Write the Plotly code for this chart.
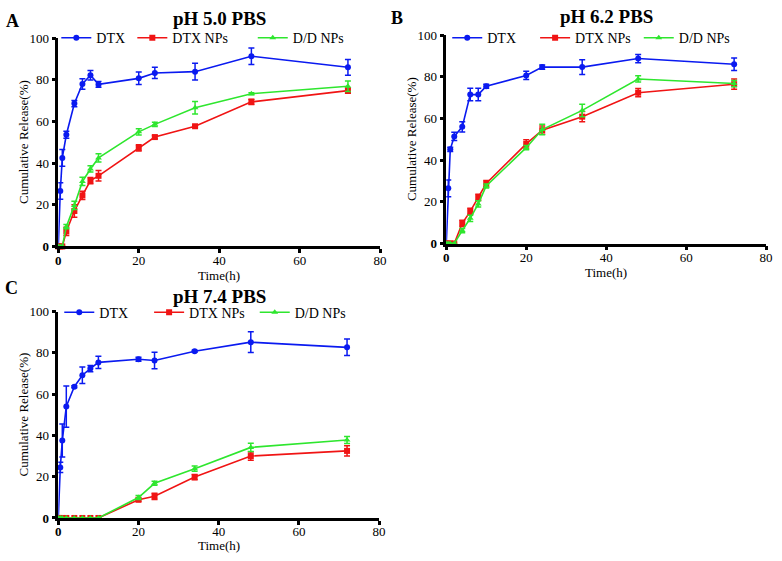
import plotly.graph_objects as go

W, H = 782, 561
FONT = "Liberation Serif, Times New Roman, Times, DejaVu Serif, serif"

time_h = [0, 0.5, 1, 2, 4, 6, 8, 10, 20, 24, 34, 48, 72]
series_names = ["DTX", "DTX NPs", "D/D NPs"]
panel_titles = ["pH 5.0 PBS", "pH 6.2 PBS", "pH 7.4 PBS"]
panel_letters = ["A", "B", "C"]
x_title = "Time(h)"
y_title = "Cumulative Release(%)"
x_ticks = [0, 20, 40, 60, 80]
y_ticks = [0, 20, 40, 60, 80, 100]

# Panel A (pH 5.0)
a_dtx = [0, 26.6, 42.5, 53.6, 68.6, 78.0, 82.2, 77.8, 80.7, 83.3, 83.9, 91.3, 86.0]
a_dtx_err = [0, 4.0, 4.0, 1.7, 1.5, 2.5, 2.3, 1.4, 3.0, 2.7, 4.0, 4.0, 3.8]
a_np = [0, 0, 0, 7.2, 17.0, 24.5, 31.6, 33.9, 47.3, 52.5, 57.7, 69.4, 74.8]
a_np_err = [0, 0, 0, 2.0, 3.0, 2.0, 1.5, 2.5, 1.5, 0.8, 0.5, 1.3, 1.3]
a_dd = [0, 0, 0, 9.5, 19.7, 31.2, 37.2, 42.5, 55.0, 58.6, 66.6, 73.3, 76.9]
a_dd_err = [0, 0, 0, 1.0, 2.0, 2.0, 1.5, 2.0, 1.5, 1.0, 3.0, 0.5, 2.5]

# Panel B (pH 6.2)
b_dtx = [0, 26.5, 45.2, 51.4, 56.0, 71.5, 71.5, 75.5, 80.7, 84.7, 84.7, 88.8, 86.1]
b_dtx_err = [0, 4.0, 1.0, 2.0, 2.5, 3.0, 3.0, 1.0, 2.0, 1.0, 3.5, 2.0, 3.0]
b_np = [0, 0, 0, 0, 9.7, 15.4, 22.1, 28.8, 47.8, 54.4, 60.9, 72.4, 76.5]
b_np_err = [0, 0, 0, 0, 1.5, 1.5, 1.5, 1.5, 2.0, 2.0, 2.5, 2.0, 2.5]
b_dd = [0, 0, 0, 0, 6.2, 12.1, 19.0, 27.6, 46.0, 54.7, 63.9, 79.0, 76.8]
b_dd_err = [0, 0, 0, 0, 1.0, 1.5, 1.5, 1.0, 1.0, 2.5, 3.0, 1.5, 1.5]

# Panel C (pH 7.4)
c_dtx = [0, 24.5, 37.5, 54.0, 63.6, 69.2, 72.4, 75.4, 76.9, 76.3, 80.8, 85.2, 82.7]
c_dtx_err = [0, 2.5, 8.0, 10.0, 0.5, 4.0, 1.5, 3.0, 1.0, 4.0, 0.5, 5.0, 4.0]
c_np = [0, 0, 0, 0, 0, 0, 0, 0, 8.8, 10.5, 19.8, 30.0, 32.5]
c_np_err = [0, 0, 0, 0, 0, 0, 0, 0, 0.7, 1.5, 1.3, 2.0, 2.5]
c_dd = [0, 0, 0, 0, 0, 0, 0, 0, 9.9, 16.8, 23.9, 34.2, 37.8]
c_dd_err = [0, 0, 0, 0, 0, 0, 0, 0, 1.0, 1.0, 1.3, 2.0, 1.7]

panels = [
    [(a_dtx, a_dtx_err), (a_np, a_np_err), (a_dd, a_dd_err)],
    [(b_dtx, b_dtx_err), (b_np, b_np_err), (b_dd, b_dd_err)],
    [(c_dtx, c_dtx_err), (c_np, c_np_err), (c_dd, c_dd_err)],
]

colors = ["#0a1af0", "#f01414", "#2ee62e"]
symbols = ["circle", "square", "triangle-up"]

# plot areas in pixels: (left, right, top, bottom)
areas = [(56, 382, 32, 246), (449, 773, 29, 243), (56, 381, 313, 525)]
# legend text starts (px) and row y (px)
legend_text_x = [[97, 174, 296], [493, 582, 687], [100, 191, 298]]
legend_row_y = [32, 32, 314]
title_pos = [(219, 12), (611, 10), (219, 297)]
letter_pos = [(10, 14), (399, 11), (9, 289)]
x_title_gap = [30, 30, 28]

fig = go.Figure()
layout = dict(
    width=W, height=H,
    margin=dict(l=0, r=0, t=0, b=0),
    paper_bgcolor="white", plot_bgcolor="white",
    font=dict(family=FONT, color="black", size=12),
    annotations=[],
)

li = 0
for p, data in enumerate(panels):
    sfx = "" if p == 0 else str(p + 1)
    l, r, t, b = areas[p]
    for s, (vals, errs) in enumerate(data):
        li += 1
        lname = "legend" if li == 1 else f"legend{li}"
        fig.add_trace(go.Scatter(
            x=time_h, y=vals, name=series_names[s],
            mode="lines+markers",
            line=dict(color=colors[s], width=1.6),
            marker=dict(color=colors[s], symbol=symbols[s], size=6),
            error_y=dict(type="data", array=errs, visible=True,
                         color=colors[s], thickness=1.5, width=3),
            cliponaxis=False,
            xaxis="x" + sfx, yaxis="y" + sfx,
            legend=lname, showlegend=True,
        ))
        tx = legend_text_x[p][s] - 43
        layout[lname] = dict(
            x=tx / W, y=1 - legend_row_y[p] / H,
            xanchor="left", yanchor="middle",
            bgcolor="rgba(0,0,0,0)",
            font=dict(family=FONT, size=14, color="black"),
            orientation="h", itemwidth=30,
        )
    xt = ["<b>0</b>" if v == 0 else str(v) for v in x_ticks]
    yt = ["<b>0</b>" if v == 0 else str(v) for v in y_ticks]
    layout["xaxis" + sfx] = dict(
        domain=[l / W, r / W], anchor="y" + sfx,
        range=[0, 80], tickvals=x_ticks, ticktext=xt,
        showline=True, linecolor="black", linewidth=2.5,
        ticks="outside", ticklen=4, tickwidth=2.5, tickcolor="black",
        showgrid=False, zeroline=False, ticklabelstandoff=-4,
        tickfont=dict(family=FONT, size=13, color="black"),
    )
    layout["yaxis" + sfx] = dict(
        domain=[1 - b / H, 1 - t / H], anchor="x" + sfx,
        range=[0, 100], tickvals=y_ticks, ticktext=yt,
        showline=True, linecolor="black", linewidth=2.5,
        ticks="outside", ticklen=4, tickwidth=2.5, tickcolor="black",
        showgrid=False, zeroline=False,
        tickfont=dict(family=FONT, size=13, color="black"),
    )
    # axis titles
    layout["annotations"].append(dict(
        text=x_title, xref="paper", yref="paper",
        x=(l + r) / 2 / W, y=1 - (b + x_title_gap[p]) / H,
        xanchor="center", yanchor="middle", showarrow=False,
        borderpad=0,
        font=dict(family=FONT, size=13, color="black"),
    ))
    layout["annotations"].append(dict(
        text=y_title, xref="paper", yref="paper",
        x=(l - 35) / W, y=1 - (t + b) / 2 / H, textangle=-90,
        xanchor="center", yanchor="middle", showarrow=False,
        font=dict(family=FONT, size=13, color="black"),
    ))
    layout["annotations"].append(dict(
        text="<b>" + panel_titles[p] + "</b>", xref="paper", yref="paper",
        x=title_pos[p][0] / W, y=1 - title_pos[p][1] / H,
        xanchor="center", yanchor="middle", showarrow=False,
        font=dict(family=FONT, size=19, color="black"),
    ))
    layout["annotations"].append(dict(
        text="<b>" + panel_letters[p] + "</b>", xref="paper", yref="paper",
        x=letter_pos[p][0] / W, y=1 - letter_pos[p][1] / H,
        xanchor="center", yanchor="middle", showarrow=False,
        font=dict(family=FONT, size=18, color="black"),
    ))

fig.update_layout(**layout)
fig.write_html("out.html", config={"displayModeBar": False},
               post_script="document.body.style.margin='0';")
